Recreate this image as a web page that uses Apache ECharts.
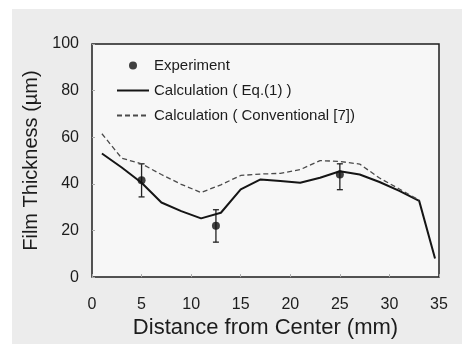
<!DOCTYPE html>
<html>
<head>
<meta charset="utf-8">
<script src="https://cdn.jsdelivr.net/npm/echarts@6/dist/echarts.min.js"></script>
<style>
html,body{margin:0;padding:0;background:#fff;}
#chart{width:462px;height:344px;}
</style>
</head>
<body>
<div id="chart"></div>
<script>
// Calculated curves
var calcX = [1, 3, 5, 7, 9, 11, 13, 15, 17, 19, 21, 23, 25, 27, 29, 31, 33, 34.6];
var eq1 = [53, 47, 40.5, 32, 28.3, 25.2, 27.6, 37.6, 41.9, 41.2, 40.5, 42.6, 45.4, 44, 40.8, 37, 32.7, 8];
var convX = [1, 3, 5, 7, 9, 11, 13, 15, 17, 19, 21, 23, 25, 27, 29, 31, 33];
var conventional = [61.5, 51, 48.6, 44, 39.8, 36.3, 39.6, 43.6, 44.2, 44.5, 46.1, 50, 49.6, 48.5, 42.5, 37.8, 33];
// Experiment
var expX = [5, 12.5, 25];
var expY = [41.5, 22, 44];
var expLow = [34.4, 15, 37.5];
var expHigh = [48.6, 28.9, 48.6];
// Axis ticks
var xTicks = [0, 5, 10, 15, 20, 25, 30, 35];
var yTicks = [0, 20, 40, 60, 80, 100];

function zip(a, b) { return a.map(function (v, i) { return [v, b[i]]; }); }

var chart = echarts.init(document.getElementById('chart'), null, {renderer: 'canvas'});
var font = 'Liberation Sans, Arial, sans-serif';
var textColor = '#1c1c1c';
var hiddenSymbol = {color: 'rgba(0,0,0,0)', borderWidth: 0, opacity: 0};

var option = {
  backgroundColor: '#ffffff',
  animation: false,
  textStyle: {fontFamily: font},
  graphic: [{
    type: 'rect', left: 12, top: 9, z: -100,
    shape: {width: 450, height: 335},
    style: {fill: '#ececec'}
  }],
  grid: {
    left: 92, right: 23, top: 44, bottom: 66,
    show: true, backgroundColor: '#f7f7f7',
    borderColor: '#1e1e1e', borderWidth: 1.5
  },
  legend: {
    orient: 'vertical', left: 111, top: 53,
    itemWidth: 32, itemHeight: 8, itemGap: 10,
    textStyle: {fontSize: 15, color: textColor, fontFamily: font},
    data: [
      {name: 'Experiment'},
      {name: 'Calculation ( Eq.(1) )', itemStyle: hiddenSymbol},
      {name: 'Calculation ( Conventional [7])', itemStyle: hiddenSymbol}
    ]
  },
  xAxis: {
    type: 'value', min: xTicks[0], max: xTicks[xTicks.length - 1], interval: 5,
    name: 'Distance from Center (mm)', nameLocation: 'middle', nameGap: 35,
    nameTextStyle: {fontSize: 22, color: textColor, fontFamily: font},
    axisLine: {show: false},
    axisTick: {show: true, inside: true, length: 3, lineStyle: {color: '#aaaaaa'}},
    axisLabel: {fontSize: 16, color: textColor, margin: 19, fontFamily: font},
    splitLine: {show: false}
  },
  yAxis: {
    type: 'value', min: yTicks[0], max: yTicks[yTicks.length - 1], interval: 20,
    name: 'Film Thickness (µm)', nameLocation: 'middle', nameGap: 48,
    nameTextStyle: {fontSize: 20, color: textColor, fontFamily: font},
    axisLine: {show: false},
    axisTick: {show: true, inside: true, length: 3, lineStyle: {color: '#aaaaaa'}},
    axisLabel: {fontSize: 16, color: textColor, margin: 13, fontFamily: font},
    splitLine: {show: false}
  },
  series: [
    {
      name: 'Calculation ( Eq.(1) )', type: 'line', data: zip(calcX, eq1),
      symbol: 'none', lineStyle: {color: '#151515', width: 2}, itemStyle: {color: '#151515'}
    },
    {
      name: 'Calculation ( Conventional [7])', type: 'line', data: zip(convX, conventional),
      symbol: 'none', lineStyle: {color: '#4a4a4a', width: 1.3, type: [5, 3]}, itemStyle: {color: '#4a4a4a'}
    },
    {
      name: 'errorbars', type: 'custom',
      data: expX.map(function (x, i) { return [x, expLow[i], expHigh[i]]; }),
      renderItem: function (params, api) {
        var x = api.value(0);
        var lo = api.coord([x, api.value(1)]);
        var hi = api.coord([x, api.value(2)]);
        var hw = 3;
        var st = {stroke: '#222', lineWidth: 1.3};
        return {
          type: 'group',
          children: [
            {type: 'line', shape: {x1: lo[0], y1: lo[1], x2: hi[0], y2: hi[1]}, style: st},
            {type: 'line', shape: {x1: lo[0] - hw, y1: lo[1], x2: lo[0] + hw, y2: lo[1]}, style: st},
            {type: 'line', shape: {x1: hi[0] - hw, y1: hi[1], x2: hi[0] + hw, y2: hi[1]}, style: st}
          ]
        };
      },
      z: 3
    },
    {
      name: 'Experiment', type: 'scatter', data: zip(expX, expY),
      symbol: 'circle', symbolSize: 8, itemStyle: {color: '#111111'}, z: 4
    }
  ]
};
chart.setOption(option);
</script>
</body>
</html>
